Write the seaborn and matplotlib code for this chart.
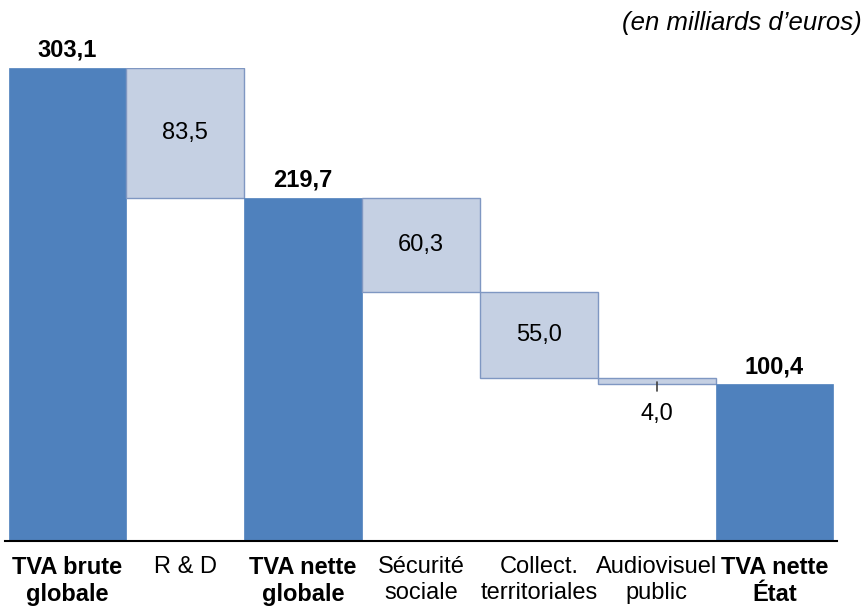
import matplotlib
matplotlib.use("Agg")
import matplotlib.pyplot as plt
import seaborn as sns
import pandas as pd

categories = ["TVA brute\nglobale", "R & D", "TVA nette\nglobale", "Sécurité\nsociale",
              "Collect.\nterritoriales", "Audiovisuel\npublic", "TVA nette\nÉtat"]
values = [303.1, 83.5, 219.7, 60.3, 55.0, 4.0, 100.4]
bottoms = [0.0, 219.6, 0.0, 159.4, 104.4, 100.4, 0.0]
is_total = [True, False, True, False, False, False, True]
value_labels = ["303,1", "83,5", "219,7", "60,3", "55,0", "4,0", "100,4"]
unit_label = "(en milliards d\u2019euros)"

DARK = "#4F81BD"
LIGHT = "#C5D0E3"
LIGHT_EDGE = "#7F97C2"
FS = 17

sns.set_theme(style="white")
plt.rcParams["font.family"] = ["Liberation Sans", "DejaVu Sans"]

df = pd.DataFrame({"cat": categories, "val": values})
fig = plt.figure(figsize=(8.67, 6.06), dpi=100)
ax = fig.add_axes([5 / 867, 1 - 541 / 606, 832 / 867, (541 - 68) / 606])

palette = [DARK if t else LIGHT for t in is_total]
sns.barplot(data=df, x="cat", y="val", hue="cat", palette=palette, legend=False,
            width=1.0, ax=ax, saturation=1)

for patch, b, h, t in zip(ax.patches, bottoms, values, is_total):
    patch.set_y(b)
    patch.set_height(h)
    if t:
        patch.set_edgecolor(DARK)
        patch.set_linewidth(0.5)
    else:
        patch.set_edgecolor(LIGHT_EDGE)
        patch.set_linewidth(1.0)

for i, (b, h, t, lab) in enumerate(zip(bottoms, values, is_total, value_labels)):
    if t:
        ax.text(i, b + h + 4, lab, ha="center", va="bottom", fontsize=FS,
                fontweight="bold", color="black")
    elif h < 10:
        ax.plot([i, i], [b + 1.2, b - 4.5], color="#404040", lw=1.2)
        ax.text(i, b - 12, lab, ha="center", va="top", fontsize=FS, color="black")
    else:
        ax.text(i, b + h / 2, lab, ha="center", va="center", fontsize=FS, color="black")

ax.set_xlim(-0.53, 6.53)
ax.set_ylim(0, 303.1)
ax.set_xlabel("")
ax.set_ylabel("")
ax.set_yticks([])
ax.set_xticks(range(len(categories)))
ax.set_xticklabels(categories, fontsize=FS, linespacing=1.2)
for lab, t in zip(ax.get_xticklabels(), is_total):
    if t:
        lab.set_fontweight("bold")
ax.tick_params(axis="x", length=0, pad=11, colors="black")
for s in ["top", "left", "right"]:
    ax.spines[s].set_visible(False)
ax.spines["bottom"].set_color("black")
ax.spines["bottom"].set_linewidth(1.5)

fig.text(862 / 867, 1 - 23 / 606, unit_label, ha="right", va="center",
         fontsize=18.5, style="italic", color="black")

fig.savefig("out.png", dpi=100)
